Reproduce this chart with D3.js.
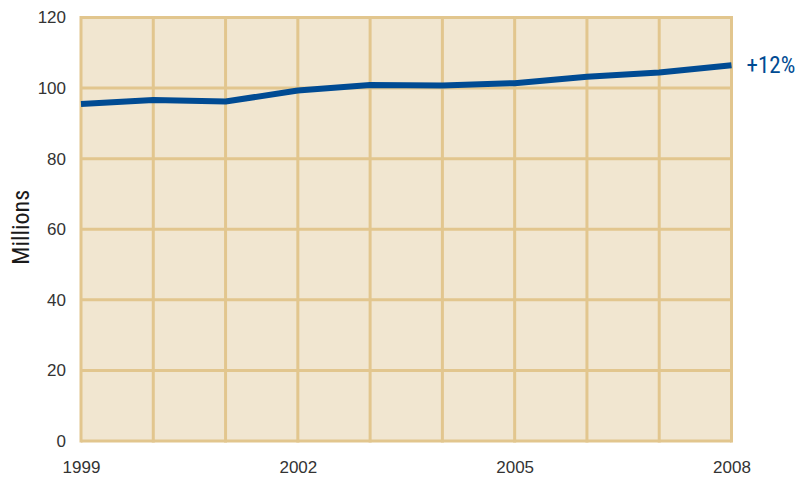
<!DOCTYPE html>
<html>
<head>
<meta charset="utf-8">
<script src="https://cdn.jsdelivr.net/npm/d3@7"></script>
<style>
  html, body { margin: 0; padding: 0; background: #ffffff; }
  svg { display: block; }
  text { font-family: "Liberation Sans Narrow", "Roboto Condensed", "Liberation Sans", sans-serif; }
</style>
</head>
<body>
<svg id="chart" width="798" height="481"></svg>
<script>
// Annual totals, in millions
const years = [1999, 2000, 2001, 2002, 2003, 2004, 2005, 2006, 2007, 2008];
const values = [95.5, 96.6, 96.2, 99.3, 100.9, 100.7, 101.4, 103.2, 104.4, 106.5];
const yTicks = [0, 20, 40, 60, 80, 100, 120];
const xLabelYears = [1999, 2002, 2005, 2008];
const changeLabel = "+12%";
const yTitle = "Millions";

const svg = d3.select("#chart");
const margin = { left: 81, right: 798 - 731.5, top: 17.5, bottom: 481 - 441 };
const width = 798, height = 481;

const x = d3.scaleLinear().domain([1999, 2008]).range([margin.left, width - margin.right]);
const y = d3.scaleLinear().domain([0, 120]).range([height - margin.bottom, margin.top]);

const gridColor = "#E2C68E";
const fillColor = "#F1E6D0";
const lineColor = "#004B93";

// Plot background
svg.append("rect")
  .attr("x", x(1999)).attr("y", y(120))
  .attr("width", x(2008) - x(1999)).attr("height", y(0) - y(120))
  .attr("fill", fillColor);

// Grid lines
svg.append("g").selectAll("line.h").data(yTicks).join("line")
  .attr("x1", x(1999)).attr("x2", x(2008))
  .attr("y1", d => y(d)).attr("y2", d => y(d))
  .attr("stroke", gridColor).attr("stroke-width", 3);

svg.append("g").selectAll("line.v").data(years).join("line")
  .attr("x1", d => x(d)).attr("x2", d => x(d))
  .attr("y1", y(0) + 1.5).attr("y2", y(120) - 1.5)
  .attr("stroke", gridColor).attr("stroke-width", 3);

// Y axis labels
const yAxis = d3.axisLeft(y).tickValues(yTicks).tickSize(0).tickPadding(15);
const gy = svg.append("g").attr("transform", `translate(${x(1999)},0)`).call(yAxis);
gy.select(".domain").remove();
gy.selectAll("text").attr("font-size", 17).attr("fill", "#333333")
  .style("font-family", "'Liberation Sans Narrow', 'Liberation Sans', sans-serif");

// X axis labels
const xAxis = d3.axisBottom(x).tickValues(xLabelYears).tickFormat(d3.format("d")).tickSize(0).tickPadding(20);
const gx = svg.append("g").attr("transform", `translate(0,${y(0)})`).call(xAxis);
gx.select(".domain").remove();
gx.selectAll("text").attr("font-size", 17).attr("fill", "#333333")
  .style("font-family", "'Liberation Sans Narrow', 'Liberation Sans', sans-serif");

// Y axis title
svg.append("text")
  .attr("transform", `translate(29,${(y(0) + y(120)) / 2 - 2}) rotate(-90)`)
  .attr("text-anchor", "middle")
  .attr("font-size", 24).attr("fill", "#1a1a1a")
  .text(yTitle);

// Data line
const line = d3.line().x((d, i) => x(years[i])).y(d => y(d));
svg.append("path").datum(values)
  .attr("d", line)
  .attr("fill", "none")
  .attr("stroke", lineColor)
  .attr("stroke-width", 6)
  .attr("stroke-linejoin", "round");

// Change annotation
svg.append("text")
  .attr("x", x(2008) + 15).attr("y", y(values[values.length - 1]) + 8)
  .attr("font-size", 23).attr("fill", lineColor)
  .text(changeLabel);
</script>
</body>
</html>
